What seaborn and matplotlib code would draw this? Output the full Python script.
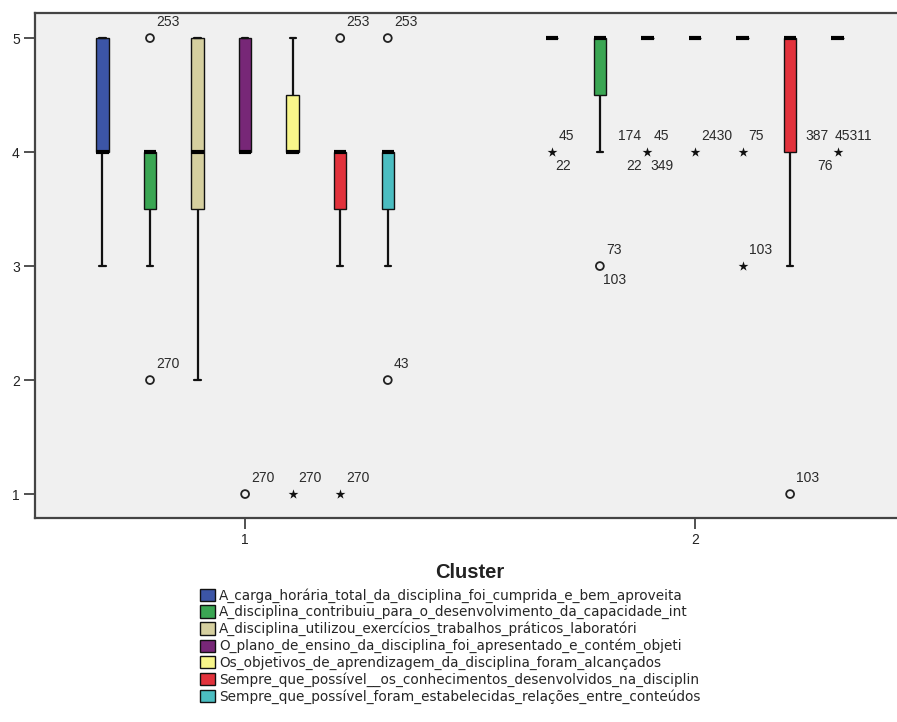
import matplotlib
matplotlib.use("Agg")
import matplotlib.pyplot as plt
import seaborn as sns
import pandas as pd

# ---------------- data ----------------
clusters = ["1", "2"]
variables = [
    "A_carga_horária_total_da_disciplina_foi_cumprida_e_bem_aproveita",
    "A_disciplina_contribuiu_para_o_desenvolvimento_da_capacidade_int",
    "A_disciplina_utilizou_exercícios_trabalhos_práticos_laboratóri",
    "O_plano_de_ensino_da_disciplina_foi_apresentado_e_contém_objeti",
    "Os_objetivos_de_aprendizagem_da_disciplina_foram_alcançados",
    "Sempre_que_possível__os_conhecimentos_desenvolvidos_na_disciplin",
    "Sempre_que_possível_foram_estabelecidas_relações_entre_conteúdos",
]
colors = ["#3c55a6", "#3aa653", "#d5cf9f", "#772777", "#f8f68a", "#e2323c", "#4bbdc1"]

# five-number summaries (whisker low, Q1, median, Q3, whisker high)
c1_low = [3, 3, 2, 4, 4, 3, 3]
c1_q1 = [4, 3.5, 3.5, 4, 4, 3.5, 3.5]
c1_med = [4, 4, 4, 4, 4, 4, 4]
c1_q3 = [5, 4, 5, 5, 4.5, 4, 4]
c1_high = [5, 4, 5, 5, 5, 4, 4]

c2_low = [5, 4, 5, 5, 5, 3, 5]
c2_q1 = [5, 4.5, 5, 5, 5, 4, 5]
c2_med = [5, 5, 5, 5, 5, 5, 5]
c2_q3 = [5, 5, 5, 5, 5, 5, 5]
c2_high = [5, 5, 5, 5, 5, 5, 5]

# outliers: cluster, variable index, value, kind ("o" outlier, "*" extreme), case labels
out_cluster = [0, 0, 0, 0, 0, 0, 0, 0, 1, 1, 1, 1, 1, 1, 1, 1]
out_var = [1, 1, 3, 4, 5, 5, 6, 6, 0, 1, 2, 3, 4, 4, 5, 6]
out_value = [5, 2, 1, 1, 5, 1, 5, 2, 4, 3, 4, 4, 4, 3, 1, 4]
out_kind = ["o", "o", "o", "*", "o", "*", "o", "o", "*", "o", "*", "*", "*", "*", "o", "*"]
# labels: upper-left, upper-right, lower-left, lower-right
out_ul = ["", "", "", "", "", "", "", "", "", "", "174", "", "", "", "", "387"]
out_ur = ["253", "270", "270", "270", "253", "270", "253", "43", "45", "73", "45", "2430", "75", "103", "103", "45311"]
out_ll = ["", "", "", "", "", "", "", "", "", "", "22", "", "", "", "", "76"]
out_lr = ["", "", "", "", "", "", "", "", "22", "103", "349", "", "", "", "", ""]

# ---------------- build table ----------------
rows = []
for ci, (lo, q1, md, q3, hi) in enumerate([(c1_low, c1_q1, c1_med, c1_q3, c1_high),
                                           (c2_low, c2_q1, c2_med, c2_q3, c2_high)]):
    for vi, var in enumerate(variables):
        for v in (lo[vi], q1[vi], md[vi], q3[vi], hi[vi]):
            rows.append({"Cluster": clusters[ci], "Variável": var, "Valor": v})
df = pd.DataFrame(rows)

# ---------------- style ----------------
sns.set_style("white")
plt.rcParams["font.family"] = ["Liberation Sans", "DejaVu Sans"]

W, H = 897, 722
fig = plt.figure(figsize=(W / 100, H / 100), dpi=100)
left_px, right_px, top_px, bottom_px = 35, 897, 13, 518
ax = fig.add_axes([left_px / W, 1 - bottom_px / H, (right_px - left_px) / W, (bottom_px - top_px) / H])
ax.set_facecolor("#f0f0f0")

box_width = 0.74
sns.boxplot(
    data=df, x="Cluster", y="Valor", hue="Variável",
    order=clusters, hue_order=variables, palette=colors, saturation=1,
    whis=(0, 100), showfliers=False, width=box_width, gap=0.74,
    linecolor="#111111", linewidth=1.0,
    medianprops={"linewidth": 3.0, "color": "black", "solid_capstyle": "butt"},
    whiskerprops={"linewidth": 1.6},
    capprops={"linewidth": 1.6},
    ax=ax,
)

# outliers and extremes
step = box_width / len(variables)
txt_col = "#2a2a2a"
fs = 10
for k in range(len(out_value)):
    x = out_cluster[k] + (out_var[k] - (len(variables) - 1) / 2) * step
    y = out_value[k]
    if out_kind[k] == "o":
        ax.scatter([x], [y], s=32, facecolors="none", edgecolors="#222222", linewidths=1.3, zorder=5)
    else:
        ax.scatter([x], [y], marker="*", s=55, color="#111111", linewidths=0, zorder=5)
    crowded = bool(out_ul[k]) and len(out_ur[k]) > 3
    if out_ur[k]:
        dx = -3 if crowded else 6
        ax.annotate(out_ur[k], (x, y), xytext=(dx, 16), textcoords="offset pixels",
                    ha="left", va="center", fontsize=fs, color=txt_col)
    if out_ul[k]:
        dxl = -9 if crowded else -6
        ax.annotate(out_ul[k], (x, y), xytext=(dxl, 16), textcoords="offset pixels",
                    ha="right", va="center", fontsize=fs, color=txt_col)
    if out_ll[k]:
        ax.annotate(out_ll[k], (x, y), xytext=(-5, -14), textcoords="offset pixels",
                    ha="right", va="center", fontsize=fs, color=txt_col)
    if out_lr[k]:
        ax.annotate(out_lr[k], (x, y), xytext=(3, -14), textcoords="offset pixels",
                    ha="left", va="center", fontsize=fs, color=txt_col)

# axes
ax.set_xlim(-0.467, 1.449)
ax.set_ylim(0.79, 5.22)
ax.set_yticks([1, 2, 3, 4, 5])
ax.set_xlabel("")
ax.set_ylabel("")
ax.tick_params(axis="both", direction="out", length=8, width=1.2, colors="#333333",
               labelsize=10, labelcolor="#222222", left=True, bottom=True, pad=3)
for s in ["left", "top", "bottom"]:
    ax.spines[s].set_color("#444444")
    ax.spines[s].set_linewidth(1.6)
ax.spines["right"].set_visible(False)

# legend
handles, labels = ax.get_legend_handles_labels()
if ax.get_legend() is not None:
    ax.get_legend().remove()
fig.legend(handles, labels, loc="upper left",
           bbox_to_anchor=(200 / W, 1 - 588 / H), bbox_transform=fig.transFigure,
           frameon=False, prop={"family": "DejaVu Sans", "size": 9.8},
           handlelength=1.1, handleheight=1.0,
           handletextpad=0.3, labelspacing=0.18, borderpad=0, borderaxespad=0)
fig.text(470 / W, 1 - 573 / H, "Cluster", ha="center", va="center",
         fontsize=14.5, fontweight="bold", color="#222222")

fig.savefig("out.png", dpi=100)
